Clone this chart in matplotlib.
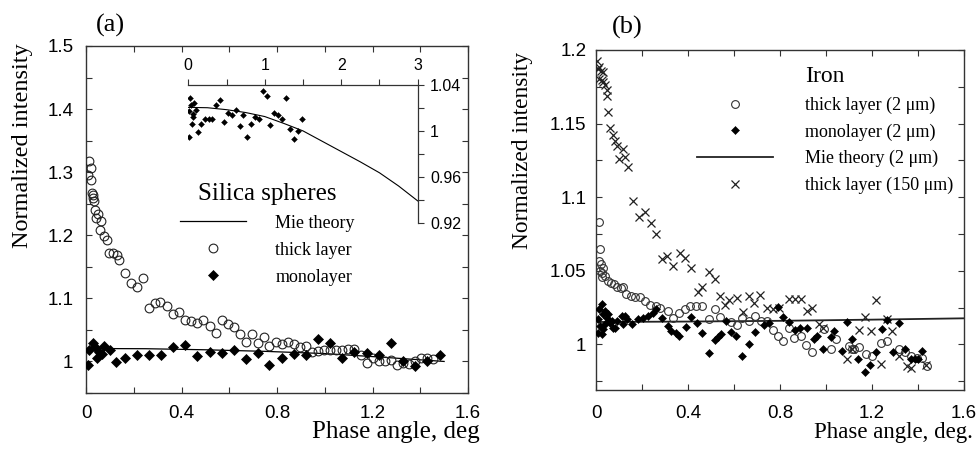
import matplotlib
matplotlib.use('Agg')
import matplotlib.pyplot as plt
from matplotlib.ticker import MultipleLocator, FuncFormatter
from matplotlib.font_manager import FontProperties

# ---------------- data: panel (a) silica spheres ----------------
mie_a_x = [0.0, 0.25, 0.5, 0.75, 1.0, 1.25, 1.5, 1.75, 2.0, 2.25, 2.5, 2.75, 3.0]
mie_a_y = [1.0205, 1.0202, 1.0185, 1.016, 1.0125, 1.0065, 1.0, 0.991, 0.982, 0.973, 0.9635, 0.952, 0.939]

thick_a_x = [0.010, 0.014, 0.019, 0.022, 0.024, 0.028, 0.030, 0.033, 0.038, 0.042,
             0.051, 0.059, 0.061, 0.075, 0.089, 0.098, 0.114, 0.128, 0.139, 0.163,
             0.187, 0.215, 0.237, 0.265, 0.289, 0.312, 0.340, 0.365, 0.390, 0.415,
             0.440, 0.467, 0.492, 0.519, 0.544, 0.569, 0.594, 0.619, 0.644, 0.670,
             0.695, 0.719, 0.747, 0.768, 0.795, 0.823, 0.845, 0.872, 0.896, 0.923,
             0.947, 0.973, 0.997, 1.023, 1.047, 1.073, 1.098, 1.124, 1.150, 1.176,
             1.201, 1.227, 1.251, 1.278, 1.303, 1.327, 1.353, 1.377, 1.404, 1.429,
             1.454]
thick_a_y = [1.295, 1.317, 1.306, 1.288, 1.267, 1.264, 1.259, 1.254, 1.2405, 1.227,
             1.234, 1.209, 1.223, 1.199, 1.193, 1.1725, 1.1725, 1.169, 1.161, 1.140,
             1.125, 1.118, 1.132, 1.084, 1.092, 1.0945, 1.0876, 1.0753, 1.0785, 1.065,
             1.0636, 1.061, 1.066, 1.0557, 1.0456, 1.065, 1.0594, 1.0546, 1.044, 1.0313,
             1.044, 1.030, 1.0387, 1.0239, 1.0313, 1.027, 1.0313, 1.028, 1.0228, 1.025,
             1.0154, 1.016, 1.0175, 1.0175, 1.0175, 1.0175, 1.0196, 1.0196, 1.0096, 0.998,
             1.0048, 1.001, 1.001, 1.003, 0.9947, 0.998, 0.996, 1.000, 1.0048, 1.0048,
             1.0037]

mono_a_x = [0.008, 0.014, 0.028, 0.038, 0.045, 0.056, 0.065, 0.077, 0.100, 0.125,
            0.164, 0.213, 0.265, 0.315, 0.365, 0.415, 0.467, 0.519, 0.569, 0.619,
            0.670, 0.719, 0.768, 0.823, 0.872, 0.923, 0.973, 1.023, 1.073, 1.124,
            1.176, 1.227, 1.278, 1.327, 1.377, 1.429, 1.482]
mono_a_y = [0.995, 1.0175, 1.029, 1.023, 1.006, 1.015, 1.012, 1.024, 1.018, 0.999,
            1.006, 1.010, 1.010, 1.010, 1.023, 1.0265, 1.008, 1.0155, 1.014, 1.018,
            1.004, 1.014, 0.995, 1.006, 1.012, 1.010, 1.035, 1.030, 1.005, 1.0155,
            1.014, 1.0105, 1.029, 1.0015, 0.993, 1.000, 1.0105]

# ---------------- data: panel (b) iron ----------------
mie_b_x = [0.0, 0.4, 0.8, 1.2, 1.6]
mie_b_y = [1.0152, 1.0155, 1.016, 1.0168, 1.0177]

thick2_b_x = [0.014, 0.017, 0.015, 0.022, 0.032, 0.018, 0.028, 0.037, 0.025, 0.053,
              0.064, 0.078, 0.092, 0.107, 0.118, 0.130, 0.150, 0.169, 0.190, 0.212,
              0.234, 0.263, 0.277, 0.313, 0.335, 0.361, 0.386, 0.410, 0.436, 0.462,
              0.491, 0.516, 0.537, 0.588, 0.612, 0.636, 0.667, 0.693, 0.718, 0.742,
              0.768, 0.790, 0.815, 0.840, 0.862, 0.891, 0.913, 0.939, 0.990, 1.021,
              1.045, 1.100, 1.122, 1.115, 1.144, 1.173, 1.201, 1.238, 1.267, 1.317,
              1.343, 1.368, 1.396, 1.418, 1.440]
thick2_b_y = [1.083, 1.0648, 1.0568, 1.0545, 1.052, 1.050, 1.0484, 1.0466, 1.0457, 1.0432,
              1.042, 1.041, 1.039, 1.038, 1.0387, 1.034, 1.033, 1.032, 1.032, 1.0295,
              1.027, 1.026, 1.025, 1.0227, 1.018, 1.0216, 1.0243, 1.026, 1.026, 1.026,
              1.0175, 1.0239, 1.0189, 1.015, 1.013, 1.018, 1.0159, 1.0193, 1.0159, 1.016,
              1.0098, 1.0057, 1.0023, 1.0114, 1.0045, 1.0057, 0.9993, 0.995, 1.0102, 0.997,
              1.0034, 0.999, 0.9966, 0.997, 0.998, 0.9932, 0.992, 1.0011, 1.0023, 0.9966,
              0.995, 0.992, 0.991, 0.991, 0.985]

mono_b_x = [0.025, 0.014, 0.032, 0.010, 0.046, 0.017, 0.039, 0.061, 0.010, 0.032,
            0.075, 0.090, 0.111, 0.118, 0.133, 0.155, 0.183, 0.205, 0.227, 0.248,
            0.263, 0.285, 0.313, 0.328, 0.347, 0.361, 0.390, 0.415, 0.439, 0.462,
            0.491, 0.516, 0.530, 0.545, 0.566, 0.588, 0.610, 0.636, 0.664, 0.693,
            0.732, 0.751, 0.790, 0.815, 0.838, 0.867, 0.887, 0.916, 0.949, 0.963,
            0.988, 1.021, 1.036, 1.069, 1.093, 1.115, 1.141, 1.170, 1.190, 1.216,
            1.242, 1.267, 1.291, 1.317, 1.343, 1.368, 1.386, 1.401, 1.418,
            0.039, 0.050, 0.082, 0.126, 0.025, 0.068]
mono_b_y = [1.0273, 1.0239, 1.0205, 1.017, 1.018, 1.0125, 1.0136, 1.0148, 1.008, 1.0102,
            1.0114, 1.0159, 1.0193, 1.0136, 1.017, 1.0136, 1.017, 1.018, 1.0193, 1.0216,
            1.0239, 1.018, 1.0125, 1.009, 1.0075, 1.0057, 1.012, 1.0189, 1.0148, 1.0075,
            0.9939, 1.003, 1.0052, 1.0068, 1.0159, 1.0084, 1.0057, 0.992, 1.000, 1.0084,
            1.013, 1.0148, 1.0257, 1.0189, 1.0152, 1.0098, 1.0114, 1.0114, 1.0039, 1.006,
            0.997, 1.0052, 1.009, 0.9955, 1.0152, 1.0039, 0.9898, 0.9811, 0.9857, 0.9948,
            1.0107, 1.0166, 0.9948, 1.0143, 0.997, 0.9898, 0.9902, 0.9902, 0.9955,
            1.0227, 1.0205, 1.0114, 1.0193, 1.0068, 1.016]

thick150_b_x = [0.006, 0.010, 0.014, 0.020, 0.012, 0.025, 0.032, 0.029, 0.039, 0.046,
                0.049, 0.053, 0.061, 0.072, 0.082, 0.090, 0.101, 0.118, 0.126, 0.137,
                0.159, 0.188, 0.212, 0.237, 0.263, 0.285, 0.309, 0.335, 0.364, 0.386,
                0.415, 0.443, 0.462, 0.491, 0.516, 0.540, 0.563, 0.578, 0.612, 0.638,
                0.664, 0.689, 0.711, 0.742, 0.771, 0.797, 0.841, 0.867, 0.891, 0.916,
                0.941, 0.970, 0.988, 1.093, 1.115, 1.144, 1.170, 1.194, 1.219, 1.238,
                1.267, 1.288, 1.317, 1.353, 1.368, 1.433]
thick150_b_y = [1.1925, 1.187, 1.1886, 1.186, 1.1806, 1.1795, 1.1848, 1.178, 1.176, 1.173,
                1.169, 1.158, 1.147, 1.1425, 1.138, 1.135, 1.126, 1.133, 1.127, 1.1205,
                1.0977, 1.0864, 1.0898, 1.0825, 1.075, 1.058, 1.060, 1.053, 1.062, 1.059,
                1.052, 1.0357, 1.039, 1.049, 1.0443, 1.033, 1.027, 1.030, 1.0318, 1.022,
                1.033, 1.0284, 1.0334, 1.025, 1.0239, 1.025, 1.0307, 1.0307, 1.0307, 1.0227,
                1.025, 1.0136, 1.0114, 0.9898, 0.997, 1.0098, 1.0189, 1.009, 1.0302, 0.9864,
                1.017, 1.009, 0.992, 0.985, 0.984, 0.9857]

# ---------------- style ----------------
SERIF = 'Liberation Serif'
SANS = 'Liberation Sans'
plt.rcParams['font.family'] = [SANS, 'DejaVu Sans']
SPINE = '#333333'


def gfmt(v, pos):
    return '%g' % round(v, 4)


def style_main(ax, xmaj, xmin, ymaj, ymin, xpad, ypad):
    for s in ax.spines.values():
        s.set_color(SPINE)
        s.set_linewidth(1.0)
    ax.xaxis.set_major_locator(MultipleLocator(xmaj))
    ax.xaxis.set_minor_locator(MultipleLocator(xmin))
    ax.yaxis.set_major_locator(MultipleLocator(ymaj))
    ax.yaxis.set_minor_locator(MultipleLocator(ymin))
    ax.xaxis.set_major_formatter(FuncFormatter(gfmt))
    ax.yaxis.set_major_formatter(FuncFormatter(gfmt))
    ax.tick_params(which='both', direction='in', top=True, right=True,
                   length=4, width=0.8, color=SPINE, labelsize=13.5)
    ax.tick_params(axis='x', which='major', pad=xpad)
    ax.tick_params(axis='y', which='major', pad=ypad)


fig = plt.figure(figsize=(9.77, 4.5), dpi=100)

# ---------------- panel (a) ----------------
axA = fig.add_axes([86 / 977, 57 / 450, 382 / 977, 347 / 450])
axA.set_xlim(0, 1.6)
axA.set_ylim(0.95, 1.5)
style_main(axA, 0.4, 0.2, 0.1, 0.05, 9, 9)

mie_main_x = [x for x in mie_a_x if x <= 1.5]
mie_main_y = [y for x, y in zip(mie_a_x, mie_a_y) if x <= 1.5]
lA1, = axA.plot(mie_main_x, mie_main_y, color='black', lw=0.9, zorder=2)
lA2, = axA.plot(thick_a_x, thick_a_y, ls='none', marker='o', ms=6.3, mfc='none',
                mec='#222222', mew=0.8, zorder=3)
lA3, = axA.plot(mono_a_x, mono_a_y, ls='none', marker='D', ms=5.0, mfc='black',
                mec='black', mew=0.5, zorder=4)

axA.set_xlabel('Phase angle, deg', family=SERIF, fontsize=18, ha='right')
axA.xaxis.set_label_coords(1.031, -0.081)
axA.set_ylabel('Normalized intensity', family=SERIF, fontsize=17.5)
axA.yaxis.set_label_coords(-0.139, 0.713)

legA = axA.legend([lA1, lA2, lA3], ['Mie theory', 'thick layer', 'monolayer'],
                  loc='upper left', bbox_to_anchor=(0.245, 0.606), frameon=False,
                  borderpad=0, borderaxespad=0, handlelength=3.7, handletextpad=1.6,
                  labelspacing=0.55, prop=FontProperties(family=SERIF, size=13),
                  title='Silica spheres',
                  title_fontproperties=FontProperties(family=SERIF, size=18))

# inset
axI = fig.add_axes([188.3 / 977, (450 - 222.7) / 450, 229.4 / 977, 137.7 / 450])
axI.patch.set_visible(False)
axI.set_xlim(0, 3)
axI.set_ylim(0.92, 1.04)
axI.spines['left'].set_visible(False)
axI.spines['bottom'].set_visible(False)
for s in ('top', 'right'):
    axI.spines[s].set_color(SPINE)
    axI.spines[s].set_linewidth(0.9)
axI.xaxis.tick_top()
axI.yaxis.tick_right()
axI.xaxis.set_major_locator(MultipleLocator(1))
axI.xaxis.set_minor_locator(MultipleLocator(0.5))
axI.yaxis.set_major_locator(MultipleLocator(0.04))
axI.yaxis.set_minor_locator(MultipleLocator(0.02))
axI.xaxis.set_major_formatter(FuncFormatter(gfmt))
axI.yaxis.set_major_formatter(FuncFormatter(gfmt))
axI.tick_params(which='both', direction='out', length=4, width=0.8, color=SPINE,
                labelsize=11.5)
axI.tick_params(axis='x', which='major', pad=5)
axI.tick_params(axis='y', which='major', pad=5)
axI.plot(mie_a_x, mie_a_y, color='black', lw=0.8, zorder=2)
axI.plot(mono_a_x, mono_a_y, ls='none', marker='D', ms=3.0, mfc='black', mec='black',
         mew=0.3, zorder=3)

# ---------------- panel (b) ----------------
axB = fig.add_axes([596 / 977, 60 / 450, 368 / 977, 340 / 450])
axB.set_xlim(0, 1.6)
axB.set_ylim(0.969, 1.2)
style_main(axB, 0.4, 0.2, 0.05, 0.025, 11, 7)

lB1, = axB.plot(thick2_b_x, thick2_b_y, ls='none', marker='o', ms=5.6, mfc='none',
                mec='#333333', mew=0.8, zorder=3)
lB2, = axB.plot(mono_b_x, mono_b_y, ls='none', marker='D', ms=4.2, mfc='black',
                mec='black', mew=0.4, zorder=4)
lB3, = axB.plot(mie_b_x, mie_b_y, color='#222222', lw=1.3, zorder=2)
lB4, = axB.plot(thick150_b_x, thick150_b_y, ls='none', marker='x', ms=6.3,
                mec='#222222', mew=0.9, zorder=3)

axB.set_xlabel('Phase angle, deg.', family=SERIF, fontsize=16.5, ha='right')
axB.xaxis.set_label_coords(1.0245, -0.094)
axB.set_ylabel('Normalized intensity', family=SERIF, fontsize=16.8)
axB.yaxis.set_label_coords(-0.171, 0.706)

legB = axB.legend([lB1, lB2, lB3, lB4],
                  ['thick layer (2 μm)', 'monolayer (2 μm)', 'Mie theory (2 μm)',
                   'thick layer (150 μm)'],
                  loc='upper left', bbox_to_anchor=(0.274, 0.952), frameon=False,
                  borderpad=0, borderaxespad=0, handlelength=4.2, handletextpad=1.8,
                  labelspacing=0.52, prop=FontProperties(family=SERIF, size=13),
                  title='Iron',
                  title_fontproperties=FontProperties(family=SERIF, size=17))

# panel letters
fig.text(110 / 977, 1 - 25 / 450, '(a)', family=SERIF, fontsize=19, ha='center', va='center')
fig.text(627 / 977, 1 - 27 / 450, '(b)', family=SERIF, fontsize=19, ha='center', va='center')

fig.savefig('out.png', dpi=100)
